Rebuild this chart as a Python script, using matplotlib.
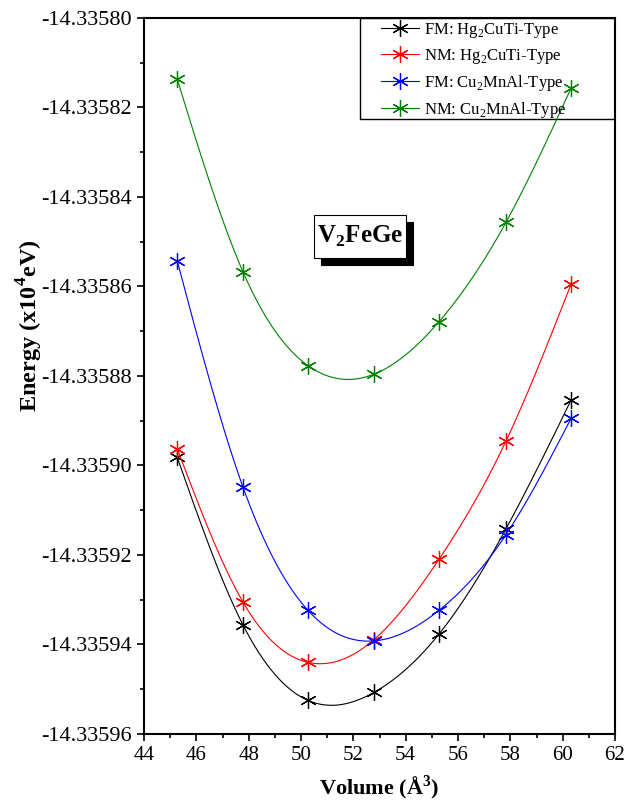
import numpy as np
import matplotlib
matplotlib.use("Agg")
import matplotlib.pyplot as plt
from matplotlib.patches import Rectangle
from matplotlib.ticker import MultipleLocator, FormatStrFormatter, AutoMinorLocator

plt.rcParams['font.family'] = ['Liberation Serif', 'DejaVu Serif']
plt.rcParams['mathtext.fontset'] = 'custom'
plt.rcParams['mathtext.rm'] = 'Liberation Serif'
plt.rcParams['mathtext.bf'] = 'Liberation Serif:bold'

# Unit-cell volume (Å^3)
volume = [45.27, 47.78, 50.27, 52.79, 55.27, 57.83, 60.32]

# Total energy (x10^4 eV) for each configuration
fm_hg2cuti = [-14.3358982, -14.3359356, -14.3359525, -14.3359507, -14.3359377, -14.3359142, -14.3358854]
nm_hg2cuti = [-14.3358963, -14.3359305, -14.3359440, -14.3359389, -14.3359210, -14.3358946, -14.3358595]
fm_cu2mnal = [-14.3358543, -14.3359048, -14.3359324, -14.3359392, -14.3359324, -14.3359155, -14.3358895]
nm_cu2mnal = [-14.3358137, -14.3358567, -14.3358777, -14.3358796, -14.3358679, -14.3358457, -14.3358157]

labels = [r"FM: Hg$_\mathregular{2}$CuTi-Type",
          r"NM: Hg$_\mathregular{2}$CuTi-Type",
          r"FM: Cu$_\mathregular{2}$MnAl-Type",
          r"NM: Cu$_\mathregular{2}$MnAl-Type"]
colors = ["#000000", "#ff0000", "#0000ff", "#008000"]


def natural_spline(x, y, n=300):
    """Natural cubic spline through (x, y), evaluated on a fine grid."""
    x = np.asarray(x, float)
    y = np.asarray(y, float)
    y0 = y.mean()
    yy = y - y0
    h = np.diff(x)
    m = len(x)
    A = np.zeros((m, m))
    b = np.zeros(m)
    A[0, 0] = A[-1, -1] = 1.0
    for i in range(1, m - 1):
        A[i, i - 1] = h[i - 1]
        A[i, i] = 2 * (h[i - 1] + h[i])
        A[i, i + 1] = h[i]
        b[i] = 3 * ((yy[i + 1] - yy[i]) / h[i] - (yy[i] - yy[i - 1]) / h[i - 1])
    c = np.linalg.solve(A, b)
    xs = np.linspace(x[0], x[-1], n)
    ys = np.empty_like(xs)
    for k, xv in enumerate(xs):
        i = min(np.searchsorted(x, xv, side='right') - 1, m - 2)
        dx = xv - x[i]
        bi = (yy[i + 1] - yy[i]) / h[i] - h[i] * (2 * c[i] + c[i + 1]) / 3
        di = (c[i + 1] - c[i]) / (3 * h[i])
        ys[k] = yy[i] + bi * dx + c[i] * dx ** 2 + di * dx ** 3
    return xs, ys + y0


fig = plt.figure(figsize=(6.35, 8.02), dpi=100)
ax = fig.add_axes([0.2268, 0.0848, 0.7417, 0.8928])

star = (6, 2, 0)
handles = []
for series, col, lab in zip([fm_hg2cuti, nm_hg2cuti, fm_cu2mnal, nm_cu2mnal], colors, labels):
    xs, ys = natural_spline(volume, series)
    ax.plot(xs, ys, color=col, lw=0.8)
    ax.plot(volume, series, linestyle='none', marker=star, ms=12, mew=0.9,
            color=col)
    ax.plot(volume, series, linestyle='none', marker='s', ms=2, color=col)
    h, = ax.plot([], [], color=col, lw=0.8, marker=star, ms=12, mew=0.9)
    handles.append(h)

ax.set_xlim(44, 62)
ax.set_ylim(-14.33596, -14.33580)
ax.xaxis.set_major_locator(MultipleLocator(2))
ax.xaxis.set_minor_locator(AutoMinorLocator(2))
ax.yaxis.set_major_locator(MultipleLocator(0.00002))
ax.yaxis.set_minor_locator(AutoMinorLocator(2))
ax.yaxis.set_major_formatter(FormatStrFormatter('%.5f'))
ax.tick_params(which='major', direction='out', length=5, width=1.2, labelsize=15)
ax.tick_params(axis='y', which='major', labelsize=16)
ax.tick_params(which='minor', direction='out', length=3, width=1.2)
for s in ax.spines.values():
    s.set_linewidth(1.5)

ax.set_xlabel(r"Volume (Å$^\mathregular{3}$)", fontsize=16, fontweight='bold', labelpad=6)
ax.set_ylabel(r"Energy (x10$^\mathregular{4}$eV)", fontsize=17.5, fontweight='bold')
ax.yaxis.set_label_coords(-0.211, 0.570)

# Legend entries, with a separate outline box in the top-right corner
leg = ax.legend(handles, labels, loc='upper left', bbox_to_anchor=(0.503, 0.9958),
                borderaxespad=0, borderpad=0, fontsize=12, frameon=False,
                handlelength=2.3, labelspacing=0.42, handletextpad=0.3)
ax.add_patch(Rectangle((0.4586, 0.859), 0.5414, 0.141, transform=ax.transAxes,
                       facecolor='none', edgecolor='black', lw=1.0, zorder=1))

# Compound label in a box with a drop shadow
bx0, by0, bw, bh = 0.361, 0.665, 0.195, 0.060
ax.add_patch(Rectangle((bx0 + 0.0149, by0 - 0.0098), bw, bh, transform=ax.transAxes,
                       facecolor='black', edgecolor='black', lw=0.8, zorder=4))
ax.add_patch(Rectangle((bx0, by0), bw, bh, transform=ax.transAxes,
                       facecolor='white', edgecolor='black', lw=0.8, zorder=5))
ax.text(bx0 + bw / 2, by0 + bh / 2, r"V$_\mathregular{2}$FeGe", transform=ax.transAxes,
        fontsize=18, fontweight='bold', ha='center', va='center', zorder=6)

fig.savefig("out.png", dpi=100)
